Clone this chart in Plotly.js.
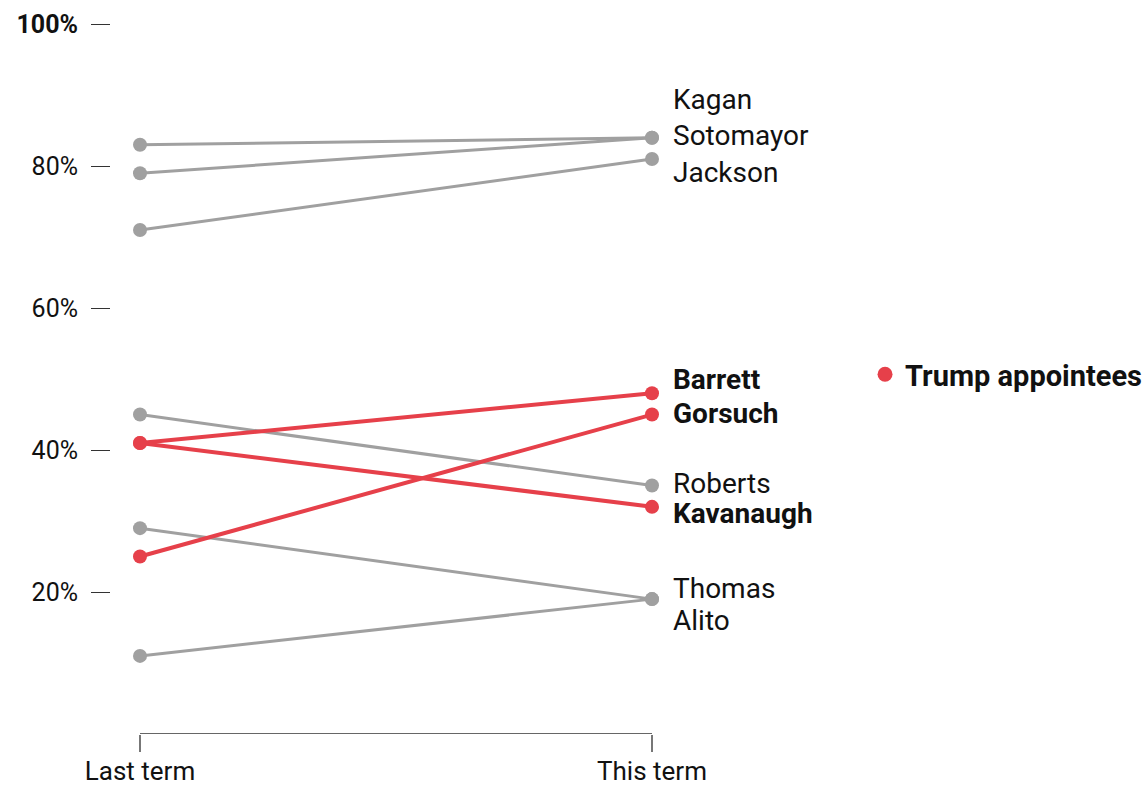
<!DOCTYPE html>
<html>
<head>
<meta charset="utf-8">
<script src="https://cdn.plot.ly/plotly-3.0.1.min.js"></script>
<style>
html,body{margin:0;padding:0;background:#fff;}
#chart{width:1148px;height:785px;}
</style>
</head>
<body>
<div id="chart"></div>
<script>
// ---- data ----
var periods = ["Last term", "This term"];
var justices = ["Kagan", "Sotomayor", "Jackson", "Barrett", "Gorsuch", "Roberts", "Kavanaugh", "Thomas", "Alito"];
var lastTerm = [83, 79, 71, 41, 25, 45, 41, 29, 11];
var thisTerm = [84, 84, 81, 48, 45, 35, 32, 19, 19];
var trumpAppointee = [false, false, false, true, true, false, true, false, false];
var yTickVals = [20, 40, 60, 80, 100];
var yTickText = ["20%", "40%", "60%", "80%", "<b>100%</b>"];
var legendLabel = "Trump appointees";

// ---- label layout (pixel nudges so labels don't collide) ----
var labelShift = {Kagan: 38, Sotomayor: 2, Jackson: -13, Barrett: 14, Gorsuch: 1, Roberts: 2, Kavanaugh: -7, Thomas: 11, Alito: -21};

var GRAY = "#a0a0a0", RED = "#e6404a";
var FONT = "Roboto, 'Liberation Sans', sans-serif";

var traces = [];
var order = [];
justices.forEach(function(j, i){ if (!trumpAppointee[i]) order.push(i); });
justices.forEach(function(j, i){ if (trumpAppointee[i]) order.push(i); });
order.forEach(function(i){
  var red = trumpAppointee[i];
  traces.push({
    x: [0, 1],
    y: [lastTerm[i], thisTerm[i]],
    mode: "lines+markers",
    line: {color: red ? RED : GRAY, width: red ? 4 : 3},
    marker: {color: red ? RED : GRAY, size: 14},
    cliponaxis: false,
    showlegend: false,
    hoverinfo: "skip",
    name: justices[i]
  });
});
traces.push({
  x: [null], y: [null], mode: "markers",
  marker: {color: RED, size: 15},
  name: "<b>" + legendLabel + "</b>",
  showlegend: true
});

var annotations = justices.map(function(j, i){
  return {
    x: 1, y: thisTerm[i], xref: "x", yref: "y",
    text: trumpAppointee[i] ? "<b>" + j + "</b>" : j,
    showarrow: false, xanchor: "left", yanchor: "middle",
    xshift: 19, yshift: labelShift[j],
    font: {family: FONT, size: 28, color: "#111"}
  };
});

var layout = {
  width: 1148, height: 785,
  margin: {l: 91, r: 448, t: 22, b: 51, autoexpand: false},
  paper_bgcolor: "#fff", plot_bgcolor: "#fff",
  font: {family: FONT, size: 22, color: "#111"},
  xaxis: {
    range: [-0.0957, 1.09375],
    tickvals: [0, 1], ticktext: periods,
    ticks: "outside", ticklen: 17, tickcolor: "#777", tickwidth: 1.5,
    showgrid: false, zeroline: false, showline: false,
    tickfont: {family: FONT, size: 26, color: "#111"},
    ticklabelstandoff: -3,
    fixedrange: true
  },
  yaxis: {
    range: [0, 100.3],
    tickvals: yTickVals, ticktext: yTickText,
    ticks: "inside", ticklen: 19, tickcolor: "#333", tickwidth: 1,
    ticklabelstandoff: 12,
    showgrid: false, zeroline: false, showline: false,
    tickfont: {family: FONT, size: 25, color: "#111"},
    fixedrange: true
  },
  shapes: [{
    type: "line", xref: "x", yref: "y", x0: 0, x1: 1, y0: 0, y1: 0,
    line: {color: "#333", width: 1.5}, layer: "below"
  }],
  annotations: annotations,
  showlegend: true,
  legend: {
    x: 1.271, y: 0.505, xref: "paper", yref: "paper",
    xanchor: "left", yanchor: "middle",
    font: {family: FONT, size: 29, color: "#111"},
    itemwidth: 30, bgcolor: "rgba(0,0,0,0)"
  }
};

Plotly.newPlot("chart", traces, layout, {displayModeBar: false, staticPlot: true});
</script>
</body>
</html>
